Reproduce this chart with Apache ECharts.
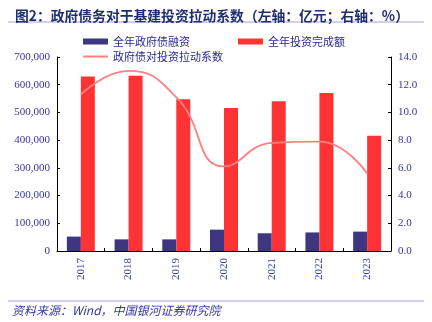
<!DOCTYPE html>
<html>
<head>
<meta charset="utf-8">
<script src="https://cdn.jsdelivr.net/npm/echarts@6/dist/echarts.min.js"></script>
<style>html,body{margin:0;padding:0;background:#fff;}#c{width:432px;height:322px;}</style>
</head>
<body>
<div id="c"></div>
<script>
const categories = ['2017','2018','2019','2020','2021','2022','2023'];
const govDebt = [52000, 42000, 42000, 77000, 64000, 67000, 70000];
const investment = [630000, 632000, 548000, 516000, 540000, 570000, 416000];
const coefficient = [11.3, 13.0, 11.1, 6.1, 7.8, 7.9, 5.6];
const leftTicks = [0, 100000, 200000, 300000, 400000, 500000, 600000, 700000];
const rightTicks = [0, 2, 4, 6, 8, 10, 12, 14];

const labelColor = '#3535a5';
const serif = '"Liberation Serif", "DejaVu Serif", serif';
const cjk = '"Noto Sans CJK SC", sans-serif';

const chart = echarts.init(document.getElementById('c'));
chart.setOption({
  animation: false,
  backgroundColor: '#fff',
  title: {
    text: '图2：政府债务对于基建投资拉动系数（左轴：亿元；右轴：%）',
    left: 10, top: 4,
    textStyle: { fontFamily: cjk, fontSize: 13.8, fontWeight: 'bold', color: '#1f2c6e' }
  },
  graphic: [
    { type: 'line', shape: { x1: 8, y1: 22, x2: 424, y2: 22 }, style: { stroke: '#a3a3d3', lineWidth: 1 } },
    { type: 'line', shape: { x1: 8, y1: 301, x2: 424, y2: 301 }, style: { stroke: '#a3a3d3', lineWidth: 1 } },
    { type: 'text', left: 12, top: 304, style: { text: '资料来源：Wind，中国银河证券研究院', font: 'italic 12px ' + cjk, fill: labelColor } }
  ],
  legend: [
    { data: ['全年政府债融资'], left: 78, top: 31, itemWidth: 25, itemHeight: 6, icon: 'rect', itemGap: 5,
      textStyle: { fontFamily: cjk, fontSize: 11, color: '#2a2a90' } },
    { data: ['全年投资完成额'], left: 233, top: 31, itemWidth: 25, itemHeight: 6, icon: 'rect',
      textStyle: { fontFamily: cjk, fontSize: 11, color: '#2a2a90' } },
    { data: ['政府债对投资拉动系数'], left: 78, top: 46, itemWidth: 25, itemHeight: 2, icon: 'rect',
      textStyle: { fontFamily: cjk, fontSize: 11, color: '#2a2a90' } }
  ],
  grid: { left: 57, right: 41, top: 57, bottom: 71, containLabel: false },
  xAxis: {
    type: 'category', data: categories,
    axisLine: { lineStyle: { color: '#000', width: 1 } },
    axisTick: { show: true, inside: true, length: 3, lineStyle: { color: '#000' } },
    axisLabel: { rotate: 90, fontFamily: serif, fontSize: 11, color: labelColor, margin: 7 }
  },
  yAxis: [
    { type: 'value', min: leftTicks[0], max: leftTicks[leftTicks.length - 1], interval: 100000,
      axisLine: { show: true, lineStyle: { color: '#000' } },
      axisTick: { show: true, inside: true, length: 3, lineStyle: { color: '#000' } },
      splitLine: { show: false },
      axisLabel: { fontFamily: serif, fontSize: 11, color: labelColor, margin: 7,
        formatter: v => v.toLocaleString('en-US') } },
    { type: 'value', min: rightTicks[0], max: rightTicks[rightTicks.length - 1], interval: 2,
      axisLine: { show: true, lineStyle: { color: '#000' } },
      axisTick: { show: true, inside: true, length: 3, lineStyle: { color: '#000' } },
      splitLine: { show: false },
      axisLabel: { fontFamily: serif, fontSize: 11, color: labelColor, margin: 7,
        formatter: v => v.toFixed(1) } }
  ],
  series: [
    { name: '全年政府债融资', type: 'bar', data: govDebt, barWidth: 14, barGap: '0%',
      itemStyle: { color: '#3f3681' } },
    { name: '全年投资完成额', type: 'bar', data: investment, barWidth: 14,
      itemStyle: { color: '#ff3333' } },
    { name: '政府债对投资拉动系数', type: 'line', yAxisIndex: 1, data: coefficient, smooth: 0.5,
      showSymbol: false, symbol: 'none', lineStyle: { color: '#ff8080', width: 1.8 }, itemStyle: { color: '#ff8080' } }
  ]
});
</script>
</body>
</html>
